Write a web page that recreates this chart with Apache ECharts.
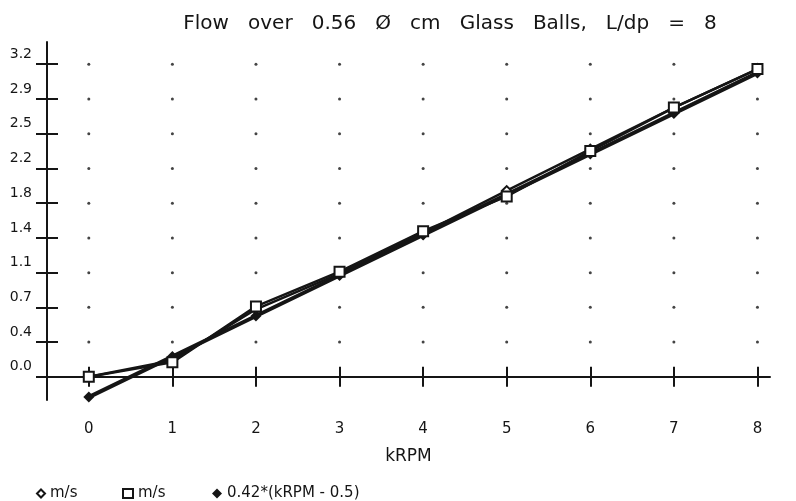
<!DOCTYPE html>
<html>
<head>
<meta charset="utf-8">
<script src="https://cdn.jsdelivr.net/npm/echarts@6/dist/echarts.min.js"></script>
<style>
  html, body { margin: 0; padding: 0; background: #fff; }
  #chart { width: 796px; height: 501px; }
</style>
</head>
<body>
<div id="chart"></div>
<script>
// Rotor speed (thousands of rpm)
const kRPM = [0, 1, 2, 3, 4, 5, 6, 7, 8];
// Measured flow velocity, first run (m/s)
const velocityRunA = [0.00, 0.17, 0.70, 1.07, 1.49, 1.93, 2.36, 2.79, 3.19];
// Measured flow velocity, second run (m/s)
const velocityRunB = [0.00, 0.15, 0.73, 1.09, 1.51, 1.87, 2.34, 2.79, 3.19];
// Linear fit 0.42*(kRPM - 0.5)
const fitLine = [-0.21, 0.21, 0.63, 1.05, 1.47, 1.89, 2.31, 2.73, 3.15];
// Vertical axis tick positions and their printed labels
const yTicks = [0, 0.36, 0.72, 1.08, 1.44, 1.80, 2.16, 2.52, 2.88, 3.24];
const yTickLabels = ['0.0', '0.4', '0.7', '1.1', '1.4', '1.8', '2.2', '2.5', '2.9', '3.2'];
const xTicks = [0, 1, 2, 3, 4, 5, 6, 7, 8];

const INK = '#151515';
const FONT = 'DejaVu Sans';

// Dotted grid: a dot at every tick intersection above the zero line
const gridDots = [];
xTicks.forEach(x => yTicks.forEach(y => { if (y > 0) gridDots.push([x, y]); }));

const pairs = ys => kRPM.map((x, i) => [x, ys[i]]);

const X_MIN = -0.5, X_MAX = 8.15, Y_MIN = -0.24, Y_MAX = 3.47;

const chart = echarts.init(document.getElementById('chart'), null, { renderer: 'canvas' });
chart.setOption({
  animation: false,
  backgroundColor: '#fff',
  textStyle: { fontFamily: FONT, color: INK },
  title: {
    text: 'Flow   over   0.56   Ø   cm   Glass   Balls,   L/dp   =   8',
    left: 445, textAlign: 'center', top: 9,
    textStyle: { fontFamily: FONT, fontSize: 20, fontWeight: 'normal', color: INK }
  },
  grid: { left: 47, right: 26, top: 42, bottom: 101, containLabel: false },
  xAxis: [{
    type: 'value', min: X_MIN, max: X_MAX,
    name: 'kRPM', nameLocation: 'middle', nameGap: 48,
    nameTextStyle: { fontFamily: FONT, fontSize: 17, color: INK },
    axisLine: { show: true, onZero: true, onZeroAxisIndex: 0, lineStyle: { color: INK, width: 2 } },
    axisTick: { show: true, inside: false, length: 10, customValues: xTicks, lineStyle: { color: INK, width: 2 } },
    axisLabel: { show: true, customValues: xTicks, margin: 22, fontFamily: FONT, fontSize: 15, color: INK,
                 formatter: v => String(Math.round(v)) },
    splitLine: { show: false }
  }, {
    type: 'value', min: X_MIN, max: X_MAX, position: 'bottom',
    axisLine: { show: false, onZero: true, onZeroAxisIndex: 1 },
    axisTick: { show: true, inside: true, length: 10, customValues: xTicks, lineStyle: { color: INK, width: 2 } },
    axisLabel: { show: false },
    splitLine: { show: false }
  }],
  yAxis: [{
    type: 'value', min: Y_MIN, max: Y_MAX, position: 'left',
    axisLine: { show: true, onZero: false, lineStyle: { color: INK, width: 2 } },
    axisTick: { show: true, inside: false, length: 11, customValues: yTicks, lineStyle: { color: INK, width: 2 } },
    axisLabel: {
      show: true, customValues: yTicks, margin: 15, fontFamily: FONT, fontSize: 14, color: INK,
      verticalAlign: 'bottom', padding: [0, 0, 3, 0],
      formatter: v => { const i = yTicks.findIndex(t => Math.abs(t - v) < 1e-6); return i >= 0 ? yTickLabels[i] : ''; }
    },
    splitLine: { show: false }
  }, {
    type: 'value', min: Y_MIN, max: Y_MAX, position: 'left',
    axisLine: { show: false, onZero: false },
    axisTick: { show: true, inside: true, length: 11, customValues: yTicks, lineStyle: { color: INK, width: 2 } },
    axisLabel: { show: false },
    splitLine: { show: false }
  }],
  legend: [{
    top: 481, left: 31, itemWidth: 8, itemHeight: 8, itemGap: 6,
    textStyle: { fontFamily: FONT, fontSize: 15, color: INK },
    data: [{ name: 'm/s', icon: 'diamond', itemStyle: { color: '#fff', borderColor: INK, borderWidth: 2 } }]
  }, {
    top: 481, left: 117, itemWidth: 10, itemHeight: 9, itemGap: 6,
    textStyle: { fontFamily: FONT, fontSize: 15, color: INK },
    data: [{ name: 'm/s', icon: 'rect', itemStyle: { color: '#fff', borderColor: INK, borderWidth: 2 } }]
  }, {
    top: 481, left: 207, itemWidth: 10, itemHeight: 10, itemGap: 5,
    textStyle: { fontFamily: FONT, fontSize: 15, color: INK },
    data: [{ name: '0.42*(kRPM - 0.5)', icon: 'diamond', itemStyle: { color: INK, borderColor: INK, borderWidth: 0 } }]
  }],
  series: [{
    type: 'scatter', name: 'grid', xAxisIndex: 0, yAxisIndex: 0,
    data: gridDots, symbol: 'circle', symbolSize: 3, silent: true, z: 1,
    itemStyle: { color: INK }
  }, {
    type: 'line', name: '0.42*(kRPM - 0.5)', xAxisIndex: 0, yAxisIndex: 0,
    data: pairs(fitLine), symbol: 'diamond', symbolSize: 11, z: 3,
    lineStyle: { color: INK, width: 4 }, itemStyle: { color: INK, borderColor: INK, borderWidth: 0 }
  }, {
    type: 'line', name: 'm/s', xAxisIndex: 0, yAxisIndex: 0,
    data: pairs(velocityRunA), symbol: 'diamond', symbolSize: 9, z: 4,
    lineStyle: { color: INK, width: 2.5 }, itemStyle: { color: '#fff', borderColor: INK, borderWidth: 2 }
  }, {
    type: 'line', name: 'm/s', xAxisIndex: 0, yAxisIndex: 0,
    data: pairs(velocityRunB), symbol: 'rect', symbolSize: 10, z: 5,
    lineStyle: { color: INK, width: 2.5 }, itemStyle: { color: '#fff', borderColor: INK, borderWidth: 2 }
  }]
});
</script>
</body>
</html>
